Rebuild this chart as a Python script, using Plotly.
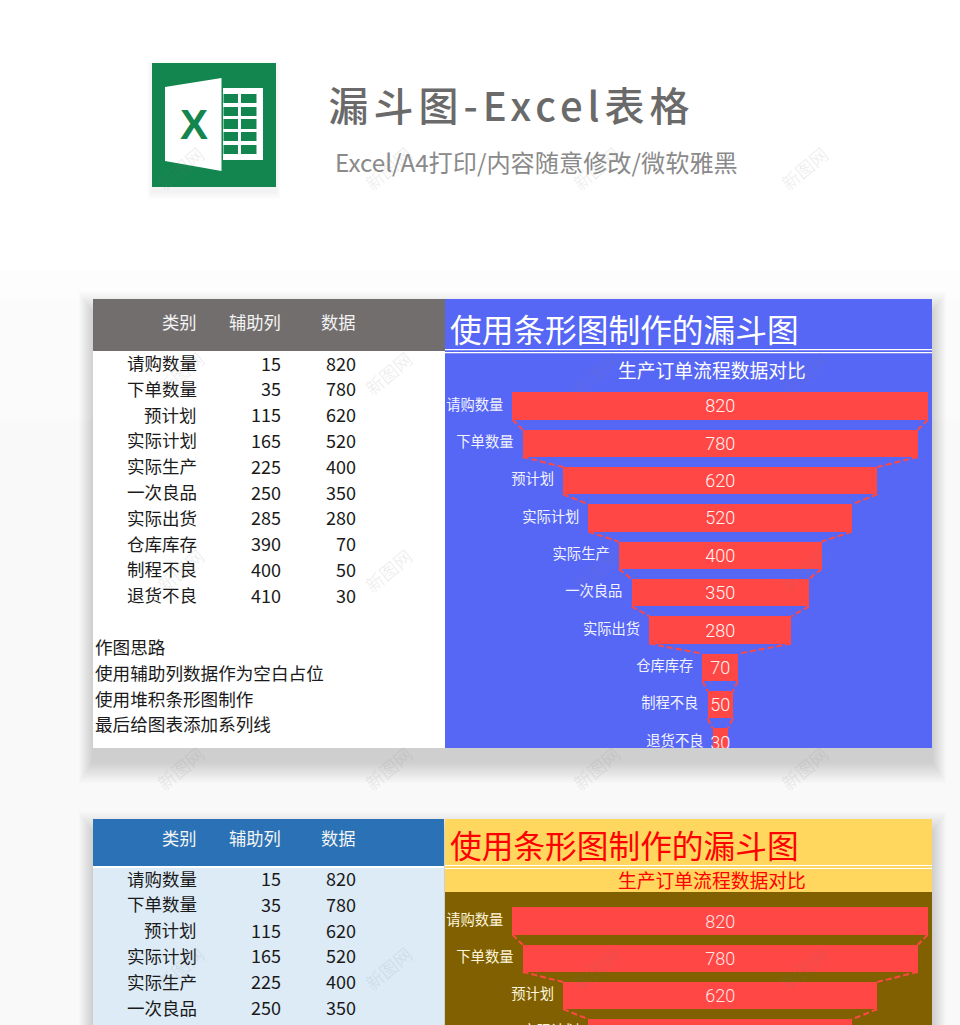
import plotly.graph_objects as go

# ---- data ----
categories = ["请购数量", "下单数量", "预计划", "实际计划", "实际生产", "一次良品", "实际出货", "仓库库存", "制程不良", "退货不良"]
helper = [15, 35, 115, 165, 225, 250, 285, 390, 400, 410]
values = [820, 780, 620, 520, 400, 350, 280, 70, 50, 30]
headers = ["类别", "辅助列", "数据"]
notes = ["作图思路", "使用辅助列数据作为空白占位", "使用堆积条形图制作", "最后给图表添加系列线"]
page_title = "漏斗图-Excel表格"
page_subtitle = "Excel/A4打印/内容随意修改/微软雅黑"
chart_title = "使用条形图制作的漏斗图"
chart_subtitle = "生产订单流程数据对比"
watermark = "新图网"

W, H = 960, 1025
CJK = "Noto Sans CJK SC"
BAR = "#FF4745"
BLUE = "#5767F5"
positions = list(range(len(categories)))


def px(x):
    return x / W


def py(y):
    return 1 - y / H


shapes, anns = [], []


def rect(x0, y0, x1, y1, color, opacity=1):
    shapes.append(dict(type="rect", xref="paper", yref="paper", x0=px(x0), x1=px(x1), y0=py(y0), y1=py(y1),
                       fillcolor=color, opacity=opacity, line_width=0, layer="below"))


def path(points, color):
    d = "M " + " L ".join(f"{px(a):.5f},{py(b):.5f}" for a, b in points) + " Z"
    shapes.append(dict(type="path", xref="paper", yref="paper", path=d, fillcolor=color, line_width=0, layer="below"))


def text(s, x, y, size, color, anchor="left", angle=0, family=CJK, weight=None):
    font = dict(family=family, size=size, color=color)
    if weight:
        font["weight"] = weight
    anns.append(dict(text=s, xref="paper", yref="paper", x=px(x), y=py(y - 2), xanchor=anchor, yanchor="middle",
                     showarrow=False, textangle=angle, font=font, borderpad=0, borderwidth=0))


# page background fading to a pale grey
for y0, y1, c in [(270, 300, "#FDFDFD"), (300, 420, "#FBFBFB"), (420, 1025, "#F9F9F9")]:
    rect(0, y0, W, y1, c)


def shadow(x0, y0, x1, y1, dy=14, steps=14, grow=1.5, side=1.0, alpha=0.010):
    for i in range(steps, 0, -1):
        rect(x0 - i * side, y0 - i * grow + dy, x1 + i * side, y1 + i * grow + dy, "#000000", alpha)


shadow(93, 299, 932, 748)
shadow(93, 819, 932, 1040)

# icon
shadow(152, 63, 276, 187, dy=5, steps=6, grow=1.2, side=0.8, alpha=0.008)
GREEN = "#13864F"
rect(152, 63, 276, 187, GREEN)
path([(165, 87), (221.5, 78), (221.5, 171), (165, 161)], "white")
rect(223, 88, 263, 160, "white")
for y0, y1 in [(94, 103), (107, 116), (119, 129), (132, 141), (145, 154)]:
    rect(223.5, y0, 238, y1, GREEN)
    rect(241, y0, 256.5, y1, GREEN)
text("X", 194, 126, 42, GREEN, "center", family="Liberation Sans", weight=700)

text(page_title, 511, 106, 40, "#6A6A6A", "center", weight=500)
text(page_subtitle, 335, 163, 24.2, "#8A8A8A")

# left tables
rect(93, 299, 445, 351, "#726E6D")
rect(93, 351, 445, 748, "#FFFFFF")
rect(93, 819, 444, 866, "#2A72B5")
rect(93, 866, 444, 868, "#FFFFFF")
rect(93, 868, 444, 1025, "#DDEBF7")

# right panels
rect(445, 299, 932, 748, BLUE)
rect(445, 349, 932, 350.3, "#FFFFFF")
rect(445, 352, 932, 353.3, "#FFFFFF")
rect(445, 819, 932, 892, "#FFD75E")
rect(445, 865, 932, 866, "#FFFFFF")
rect(445, 868, 932, 869, "#FFFFFF")
rect(445, 892, 932, 1025, "#806000")

COLS = (197, 281, 356)


def table(header_y, rows):
    for h, x in zip(headers, COLS):
        text(h, x, header_y, 17.3, "#F4F4F4", "right")
    for i, ry in zip(positions, rows):
        text(categories[i], COLS[0], ry, 17.5, "#1A1A1A", "right")
        text(str(helper[i]), COLS[1], ry, 18, "#1A1A1A", "right")
        text(str(values[i]), COLS[2], ry, 18, "#1A1A1A", "right")


table(323, [364.5 + 25.8 * i for i in positions])
table(839, [880 + 25.8 * i for i in positions[:6]])
for s, y in zip(notes, [648, 674, 700, 725]):
    text(s, 95, y, 17.6, "#1A1A1A")

# chart titles
text(chart_title, 450, 330, 31.7, "#FFFFFF")
text(chart_subtitle, 712, 371, 18.8, "#FFFFFF", "center")
text(chart_title, 450, 846, 31.7, "#FF0000")
text(chart_subtitle, 712, 881, 18.8, "#FF0000", "center")

# faint watermark grid
for wy in (170, 375, 572, 770, 970):
    for wx in (180, 388, 596, 804):
        text(watermark, wx, wy, 18, "rgba(120,120,120,0.13)", "center", angle=-40)

fig = go.Figure()
LABEL_GAP = 18  # axis units between a category label and its bar
BAR_WIDTH = 0.73


def funnel(xa, ya, label_color, value_color):
    common = dict(xaxis=xa, yaxis=ya, hoverinfo="skip", showlegend=False)
    fig.add_trace(go.Bar(y=positions, x=helper, orientation="h", width=BAR_WIDTH,
                         marker=dict(color="rgba(0,0,0,0)", line_width=0), **common))
    fig.add_trace(go.Bar(y=positions, x=values, orientation="h", width=BAR_WIDTH, marker=dict(color=BAR, line_width=0),
                         text=values, textposition="inside", insidetextanchor="middle", constraintext="none",
                         textangle=0, textfont=dict(family="Roboto", size=18, weight=300, color=value_color),
                         **common))
    half = BAR_WIDTH / 2
    lx, rx, ly = [], [], []
    for i in positions[:-1]:
        lx += [helper[i], helper[i + 1], None]
        rx += [helper[i] + values[i], helper[i + 1] + values[i + 1], None]
        ly += [i + half, i + 1 - half, None]
    for xs in (lx, rx):
        fig.add_trace(go.Scatter(x=xs, y=ly, mode="lines", line=dict(color=BAR, width=2, dash="6px,3px"), **common))
    fig.add_trace(go.Scatter(x=[h - LABEL_GAP for h in helper], y=positions, mode="text", text=categories,
                             textposition="middle left",
                             textfont=dict(family=CJK, size=14.3, color=label_color), **common))


funnel("x", "y", "#F2F3FF", "#FFF4F4")
funnel("x2", "y2", "#FFF6DC", "#FFE4E4")

axis_off = dict(visible=False, fixedrange=True)
fig.update_layout(
    width=W, height=H, margin=dict(l=0, r=0, t=0, b=0), autosize=False,
    paper_bgcolor="#FFFFFF", plot_bgcolor="rgba(0,0,0,0)", barmode="stack", bargap=0.27,
    xaxis=dict(domain=[px(445), px(932)], range=[-118.2, 843], anchor="y", **axis_off),
    yaxis=dict(domain=[py(748), py(387.3)], range=[9.16, -0.5], anchor="x", **axis_off),
    xaxis2=dict(domain=[px(445), px(932)], range=[-118.2, 843], anchor="y2", **axis_off),
    yaxis2=dict(domain=[0, py(892)], range=[2.79, -0.78], anchor="x2", **axis_off),
    shapes=shapes,
    annotations=anns,
)

post = """
document.documentElement.style.overflow='hidden';
document.body.style.margin='0';
document.body.style.overflow='hidden';
document.querySelectorAll('.annotation-text').forEach(function(t){
  if(t.textContent==='漏斗图-Excel表格'){t.style.letterSpacing='5px';}
});
"""
fig.write_html("out.html", post_script=post, config=dict(displayModeBar=False, staticPlot=True))
